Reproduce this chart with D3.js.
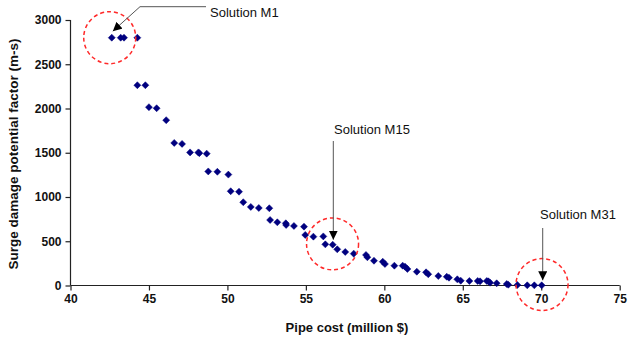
<!DOCTYPE html>
<html><head><meta charset="utf-8">
<script src="https://cdn.jsdelivr.net/npm/d3@7"></script>
<style>body{margin:0;background:#fff}svg{display:block}</style>
</head><body>
<svg id="c" width="629" height="344"></svg>
<script>
const cost = [42.63,43.2,43.41,44.26,44.26,44.77,45.0,45.49,46.1,46.61,47.11,47.62,48.15,48.21,48.68,48.78,49.36,50.06,50.21,50.74,51.01,51.49,52.0,52.67,52.72,53.18,53.72,53.74,54.24,54.88,54.96,55.48,56.11,56.24,56.71,57.0,57.51,58.05,58.83,58.92,59.34,59.9,60.04,60.64,61.17,61.32,61.47,62.07,62.66,62.8,63.44,63.98,64.12,64.65,64.87,65.42,65.95,66.1,66.53,66.63,66.74,67.16,67.8,67.9,68.48,69.11,69.56,70.03];
const surge = [2800,2800,2800,2800,2263,2263,2015,2003,1868,1611,1600,1504,1504,1495,1490,1289,1285,1253,1065,1060,941,888,876,873,740,714,703,684,673,665,571,552,555,465,461,409,379,360,345,319,280,269,243,224,224,213,187,156,149,127,107,99,88,70,54,51,51,47,51,47,32,25,17,9,6,2,2,2];
const xTicks = [40,45,50,55,60,65,70,75];
const yTicks = [0,500,1000,1500,2000,2500,3000];
const annotations = [
  {label:"Solution M1", x:42.6, y:2800},
  {label:"Solution M15", x:56.71, y:461},
  {label:"Solution M31", x:70.03, y:2}
];

const font = "Liberation Sans, Arial, sans-serif";
const svg = d3.select("#c");
const x = d3.scaleLinear().domain([40,75]).range([70.5,619.7]);
const y = d3.scaleLinear().domain([0,3000]).range([285.5,20]);

const gx = svg.append("g").attr("transform","translate(0,285.5)")
  .call(d3.axisBottom(x).tickValues(xTicks).tickSize(5).tickPadding(4).tickFormat(d3.format("d")));
const gy = svg.append("g").attr("transform","translate(70.5,0)")
  .call(d3.axisLeft(y).tickValues(yTicks).tickSize(5).tickPadding(4).tickFormat(d3.format("d")));
[gx,gy].forEach(g=>{
  g.select(".domain").attr("stroke","#222").attr("stroke-width",1.2);
  g.selectAll(".tick line").attr("stroke","#222").attr("stroke-width",1.2);
  g.selectAll(".tick text").attr("font-family",font)
   .attr("font-size",12).attr("font-weight","bold").attr("fill","#111");
});
gx.select(".domain").attr("d","M70.5,0H619.7");
gy.select(".domain").attr("d","M0,20V285.5");

svg.append("text").attr("x",347).attr("y",332).attr("text-anchor","middle")
  .attr("font-family",font).attr("font-size",13)
  .attr("font-weight","bold").attr("fill","#111").text("Pipe cost (million $)");
svg.append("text").attr("transform","translate(18,154) rotate(-90)").attr("text-anchor","middle")
  .attr("font-family",font).attr("font-size",13.5)
  .attr("font-weight","bold").attr("fill","#111").text("Surge damage potential factor (m-s)");

// points
const pts = cost.map((c,i)=>({c, s:surge[i]}));
svg.append("g").selectAll("path").data(pts).join("path")
  .attr("transform",d=>`translate(${x(d.c)},${y(d.s)})`)
  .attr("d","M0,-3.5L3.5,0L0,3.5L-3.5,0Z")
  .attr("fill","#00007f").attr("stroke","#00007f").attr("stroke-width",0.5);

// circles
const circ = svg.append("g");
[[42.5,2800],[56.7,470],[70.05,10]].forEach(([cx,cy])=>{
  circ.append("circle").attr("cx",x(cx)).attr("cy",y(cy)).attr("r",26)
    .attr("fill","none").attr("stroke","#ff2a2a").attr("stroke-width",1.5)
    .attr("stroke-dasharray","4,3");
});

// arrows
const defs = svg.append("defs");
defs.append("marker").attr("id","ah").attr("viewBox","0 0 10 10").attr("refX",10).attr("refY",5)
  .attr("markerWidth",9).attr("markerHeight",9).attr("markerUnits","userSpaceOnUse").attr("orient","auto")
  .append("path").attr("d","M0,0L10,5L0,10Z").attr("fill","#000");
// M1
svg.append("path").attr("d",`M206,6.7H140L${x(annotations[0].x)+1.5},${y(annotations[0].y)-6.5}`)
  .attr("fill","none").attr("stroke","#555").attr("stroke-width",1).attr("marker-end","url(#ah)");
svg.append("text").attr("x",210).attr("y",17).attr("font-family",font).attr("font-size",13)
  .attr("fill","#111").text(annotations[0].label);
// M15
svg.append("line").attr("x1",x(annotations[1].x)+0.6).attr("x2",x(annotations[1].x)+0.6)
  .attr("y1",141).attr("y2",y(annotations[1].y)-5).attr("stroke","#555").attr("stroke-width",1).attr("marker-end","url(#ah)");
svg.append("text").attr("x",334).attr("y",134).attr("font-family",font).attr("font-size",13)
  .attr("fill","#111").text(annotations[1].label);
// M31
svg.append("line").attr("x1",x(annotations[2].x)+1).attr("x2",x(annotations[2].x)+1)
  .attr("y1",228).attr("y2",y(annotations[2].y)-5).attr("stroke","#555").attr("stroke-width",1).attr("marker-end","url(#ah)");
svg.append("text").attr("x",540).attr("y",219).attr("font-family",font).attr("font-size",13)
  .attr("fill","#111").text(annotations[2].label);
</script>
</body></html>
